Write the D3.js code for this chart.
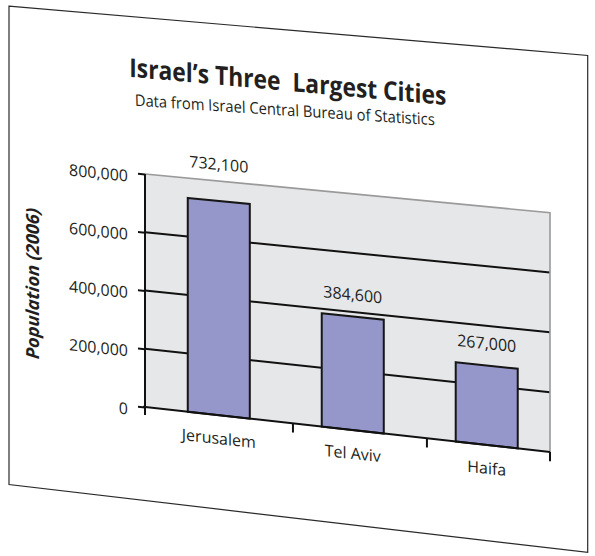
<!DOCTYPE html>
<html>
<head>
<meta charset="utf-8">
<script src="https://cdn.jsdelivr.net/npm/d3@7"></script>
<style>
body { margin: 0; background: #fff; }
text { font-family: "Open Sans", sans-serif; fill: #231f20; }
</style>
</head>
<body>
<div id="wrapper"></div>
<script>
var cities = ["Jerusalem", "Tel Aviv", "Haifa"];
var population = [732100, 384600, 267000];
var yTicks = [0, 200000, 400000, 600000, 800000];
var title = "Israel\u2019s Three\u00a0 Largest Cities";
var subtitle = "Data from Israel Central Bureau of Statistics";
var yTitle = "Population (2006)";

var width = 595, height = 556;

// chart is laid out flat, then bent: x stays, y tilts down and stretches to the right
var X0 = 145, Y0 = 407, K0 = 0.1111, KS = 0.0000667;
function warp(x, y) {
    var dx = x - X0;
    return [x, Y0 + K0 * dx + (y - Y0) * (1 + KS * dx)];
}
function local(x, y) {
    var p = warp(x, y);
    return "matrix(1," + (K0 + (y - Y0) * KS) + ",0," + (1 + KS * (x - X0)) + "," + p[0] + "," + p[1] + ")";
}
function quad(x0, y0, x1, y1) {
    return "M" + [warp(x0, y0), warp(x1, y0), warp(x1, y1), warp(x0, y1)].join("L") + "Z";
}
function seg(x0, y0, x1, y1) {
    return "M" + warp(x0, y0) + "L" + warp(x1, y1);
}

var plot = { left: 145, right: 550, top: 174, bottom: 407 };

var y = d3.scaleLinear().domain([0, 800000]).range([plot.bottom, plot.top]);
var x = d3.scaleBand().domain(cities).range([plot.left, plot.right])
    .paddingInner(0.537).paddingOuter(0.28).align(0.57);

var svg = d3.select("#wrapper").append("svg")
    .attr("width", width)
    .attr("height", height);

// the sheet
svg.append("path")
    .attr("d", quad(9, 17.8, 587.7, 500.5))
    .attr("fill", "#fff")
    .attr("stroke", "#2a2a2a")
    .attr("stroke-width", 1.2);

// plot background
svg.append("path")
    .attr("d", quad(plot.left, plot.top, plot.right, plot.bottom))
    .attr("fill", "#e6e7e9");

// gridlines
svg.append("g").selectAll("path")
    .data(yTicks.filter(d => d > 0 && d < 800000))
    .enter().append("path")
    .attr("d", d => seg(plot.left, y(d), plot.right, y(d)))
    .attr("stroke", "#111")
    .attr("stroke-width", 2)
    .attr("fill", "none");

// top and right border
svg.append("path")
    .attr("d", "M" + warp(plot.left, plot.top) + "L" + warp(plot.right, plot.top) + "L" + warp(plot.right, plot.bottom))
    .attr("stroke", "#9a9a9a")
    .attr("stroke-width", 1.6)
    .attr("fill", "none");

// bars
svg.append("g").selectAll("path")
    .data(cities)
    .enter().append("path")
    .attr("d", (d, i) => quad(x(d), y(population[i]), x(d) + x.bandwidth(), y(0)))
    .attr("fill", "#9596c9")
    .attr("stroke", "#161616")
    .attr("stroke-width", 2)
    .attr("stroke-linejoin", "miter");

// axis lines
svg.append("path")
    .attr("d", seg(plot.left, plot.top, plot.left, plot.bottom + 8))
    .attr("stroke", "#111").attr("stroke-width", 2);
svg.append("path")
    .attr("d", seg(plot.left - 2, plot.bottom, plot.right, plot.bottom))
    .attr("stroke", "#111").attr("stroke-width", 2);

// category ticks, between bars
var gapTicks = cities.slice(1).map(d => x(d) - x.step() * x.paddingInner() * 0.4);
svg.append("g").selectAll("path")
    .data(gapTicks.concat([plot.right]))
    .enter().append("path")
    .attr("d", d => seg(d, plot.bottom, d, plot.bottom + 9))
    .attr("stroke", "#111").attr("stroke-width", 2);

// y axis ticks + labels
var yAxis = svg.append("g")
    .attr("transform", "matrix(1," + (K0 - 116 * KS) + ",0,1," + plot.left + ",0)")
    .call(d3.axisLeft(y).tickValues(yTicks).tickSize(7).tickPadding(10).tickFormat(d3.format(",")));
yAxis.select(".domain").remove();
yAxis.selectAll(".tick line").attr("stroke", "#111").attr("stroke-width", 2);
yAxis.selectAll(".tick text")
    .attr("dy", "0.55em")
    .style("font-family", "'Open Sans', sans-serif")
    .style("font-size", "16px")
    .attr("fill", "#231f20");

// category labels
var xAxis = svg.append("g")
    .attr("transform", "matrix(1," + K0 + ",0,1,0," + (-K0 * X0) + ")")
    .append("g")
    .attr("transform", "translate(0," + plot.bottom + ")")
    .call(d3.axisBottom(x).tickSize(0).tickPadding(17.6));
xAxis.select(".domain").remove();
xAxis.selectAll(".tick text")
    .style("font-family", "'Open Sans', sans-serif")
    .style("font-size", "16px")
    .attr("fill", "#231f20");

// value labels: above the bar, or above the plot when the bar nearly fills it
function labelY(v) {
    var ly = y(v) - 16;
    return ly < plot.top + 6 ? plot.top - 11 : ly;
}
svg.append("g").selectAll("text")
    .data(cities)
    .enter().append("text")
    .attr("transform", (d, i) => local(x(d) + x.bandwidth() / 2, labelY(population[i])))
    .attr("text-anchor", "middle")
    .style("font-size", "16px")
    .text((d, i) => d3.format(",")(population[i]));

// titles
svg.append("text")
    .attr("transform", local(129.3, 78.1))
    .attr("textLength", 317)
    .attr("lengthAdjust", "spacingAndGlyphs")
    .style("font-size", "26px")
    .style("font-weight", 700)
    .text(title);

svg.append("g")
    .attr("transform", local(135, 106.7))
    .append("text")
    .attr("transform", "rotate(-1.5)")
    .attr("textLength", 300)
    .attr("lengthAdjust", "spacingAndGlyphs")
    .style("font-size", "16px")
    .text(subtitle);

svg.append("g")
    .attr("transform", local(39, 295))
    .append("text")
    .attr("transform", "rotate(-90)")
    .attr("text-anchor", "middle")
    .attr("textLength", 152)
    .attr("lengthAdjust", "spacingAndGlyphs")
    .style("font-size", "18px")
    .style("font-weight", 700)
    .style("font-style", "italic")
    .text(yTitle);
</script>
</body>
</html>
